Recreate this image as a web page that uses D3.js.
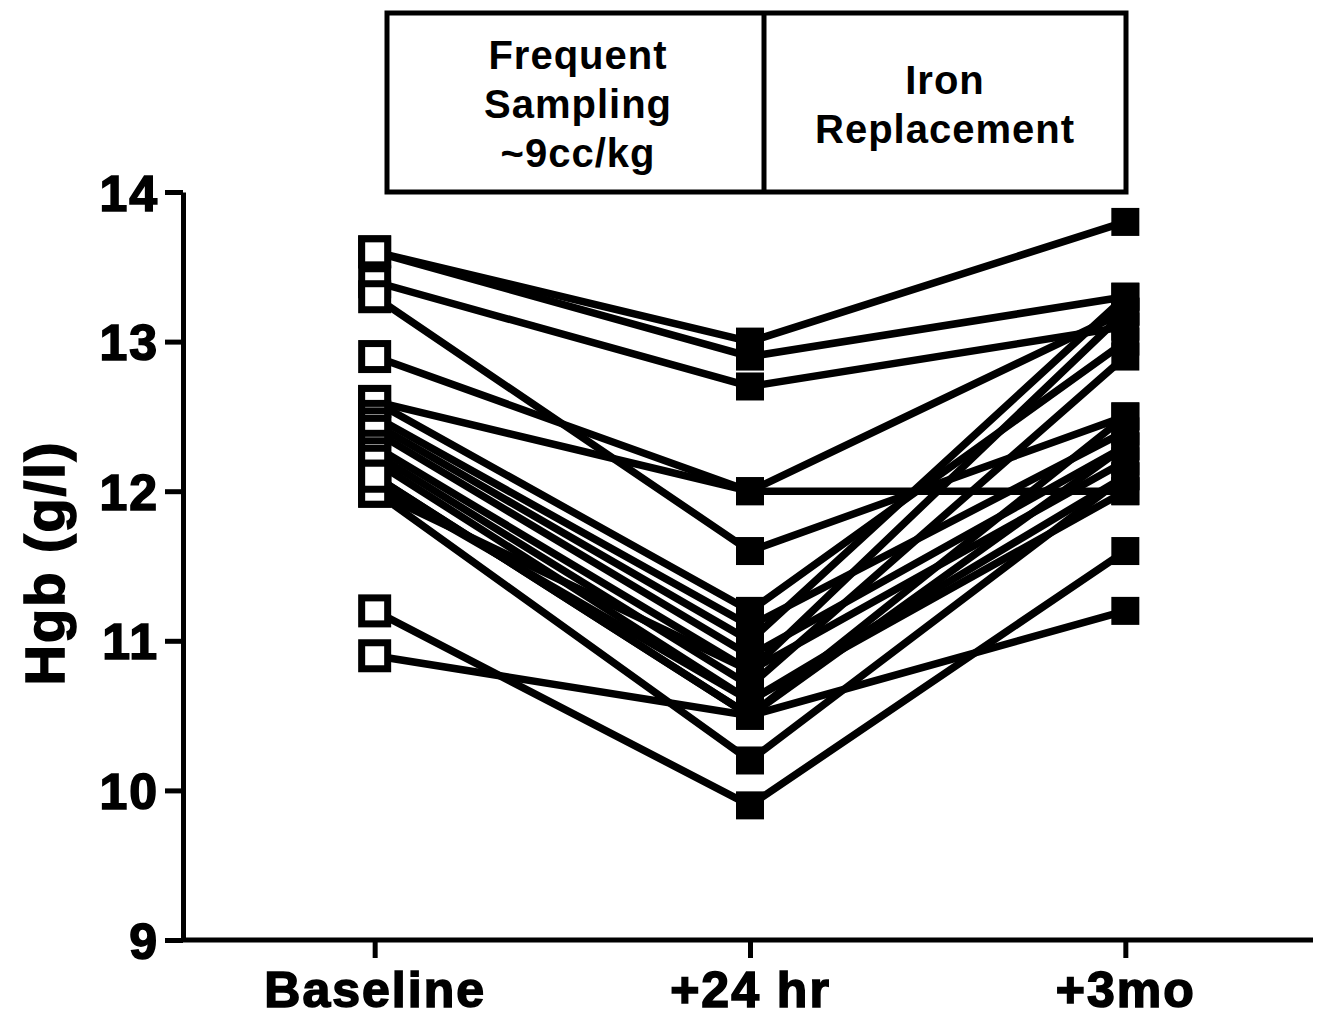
<!DOCTYPE html>
<html lang="en">
<head>
  <meta charset="UTF-8">
  <title>Hgb</title>
  <style>
    body{ margin:0; background:#fff; }
    svg text{ font-family:"Liberation Sans", Arial, sans-serif; font-weight:bold; fill:#000; }
    .axis path, .axis line{ stroke:#000; stroke-width:5px; }
    .axis text{ font-size:50px; letter-spacing:2px; stroke:#000; stroke-width:1.6px; }
  </style>
</head>
<body>
<svg id="chart" width="1326" height="1020"></svg>

<script src="https://cdn.jsdelivr.net/npm/d3@7"></script>
<script>
  "use strict";

  var
    timepoints = ["Baseline", "+24 hr", "+3mo"],
    yTicks = [9, 10, 11, 12, 13, 14],
    // one value per subject, same order in every array
    baseline = [13.6, 13.6, 13.4, 13.3, 12.9, 12.6, 12.6, 12.5, 12.45, 12.4, 12.3, 12.25, 12.2, 12.1, 12.05, 12.0, 12.0, 12.1, 11.2, 10.9],
    hr24     = [13.0, 12.9, 12.7, 11.6, 12.0, 12.0, 11.2, 11.1, 11.0, 10.9, 10.8, 10.7, 10.6, 10.5, 10.6, 10.2, 10.8, 10.5, 9.9, 10.5],
    mo3      = [13.8, 13.3, 13.1, 12.5, 12.0, 13.2, 13.0, 12.4, 13.3, 12.3, 12.2, 12.9, 12.1, 12.5, 12.0, 12.1, 13.2, 12.3, 11.6, 11.2],
    boxLeft  = ["Frequent", "Sampling", "~9cc/kg"],
    boxRight = ["Iron", "Replacement"];

  var svg = d3.select("#chart");

  var x = d3.scalePoint().domain(timepoints).range([187, 1313]).padding(0.5);
  var y = d3.scaleLinear().domain([9, 14]).range([940, 192]);

  var subjects = baseline.map(function(d, i){
    return [d, hr24[i], mo3[i]];
  });

  // lines
  var line = d3.line()
    .x(function(d, i){ return x(timepoints[i]); })
    .y(function(d){ return y(d); });

  svg.append("g").selectAll("path")
    .data(subjects)
    .enter()
    .append("path")
    .attr("d", line)
    .attr("fill", "none")
    .attr("stroke", "#000")
    .attr("stroke-width", 7.5);

  // open squares at baseline
  svg.append("g").selectAll("rect")
    .data(baseline)
    .enter()
    .append("rect")
    .attr("x", x(timepoints[0]) - 13)
    .attr("y", function(d){ return y(d) - 13; })
    .attr("width", 26)
    .attr("height", 26)
    .attr("fill", "#fff")
    .attr("stroke", "#000")
    .attr("stroke-width", 7);

  // filled squares later
  [hr24, mo3].forEach(function(arr, k){
    svg.append("g").selectAll("rect")
      .data(arr)
      .enter()
      .append("rect")
      .attr("x", x(timepoints[k + 1]) - 14)
      .attr("y", function(d){ return y(d) - 14; })
      .attr("width", 28)
      .attr("height", 28)
      .attr("fill", "#000");
  });

  // axes
  svg.append("g")
    .attr("class", "axis")
    .attr("transform", "translate(183,0)")
    .call(d3.axisLeft(y).tickValues(yTicks).tickSize(18).tickSizeOuter(0).tickPadding(6).tickFormat(d3.format("d")))
    .selectAll("text").attr("dy", "0.36em");

  var xg = svg.append("g")
    .attr("class", "axis")
    .attr("transform", "translate(0,940)")
    .call(d3.axisBottom(x).tickSize(18).tickSizeOuter(0).tickPadding(12));
  xg.select(".domain").remove();
  xg.append("line").attr("x1", 181).attr("x2", 1313).attr("y1", 0).attr("y2", 0);
  xg.selectAll("text").attr("dy", "0.74em");

  svg.append("text")
    .attr("transform", "translate(64,563) rotate(-90)")
    .attr("text-anchor", "middle")
    .style("font-size", "56px")
    .style("letter-spacing", "2px")
    .style("stroke", "#000")
    .style("stroke-width", "1.6px")
    .text("Hgb (g/l)");

  // phase boxes
  var box = svg.append("g");
  box.append("rect")
    .attr("x", 387).attr("y", 13).attr("width", 739).attr("height", 179)
    .attr("fill", "none").attr("stroke", "#000").attr("stroke-width", 5);
  box.append("line")
    .attr("x1", 764).attr("x2", 764).attr("y1", 13).attr("y2", 192)
    .attr("stroke", "#000").attr("stroke-width", 5);

  box.selectAll("text.l")
    .data(boxLeft)
    .enter()
    .append("text")
    .attr("class", "l")
    .attr("x", 578)
    .attr("y", function(d, i){ return 69 + i * 49; })
    .attr("text-anchor", "middle")
    .style("font-size", "40px")
    .style("letter-spacing", "1px")
    .text(function(d){ return d; });

  box.selectAll("text.r")
    .data(boxRight)
    .enter()
    .append("text")
    .attr("class", "r")
    .attr("x", 945)
    .attr("y", function(d, i){ return 94 + i * 49; })
    .attr("text-anchor", "middle")
    .style("font-size", "40px")
    .style("letter-spacing", "1px")
    .text(function(d){ return d; });
</script>
</body>
</html>
